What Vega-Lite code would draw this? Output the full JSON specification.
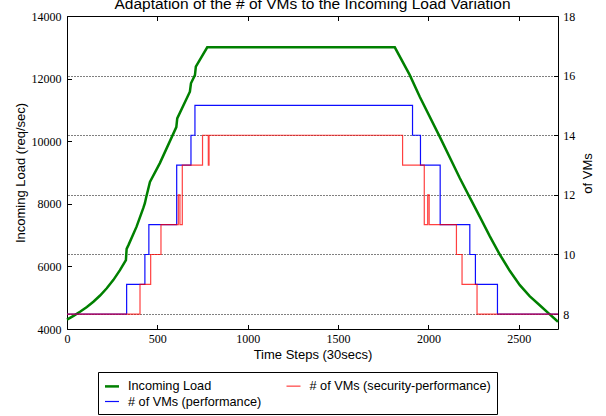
{
  "$schema": "https://vega.github.io/schema/vega-lite/v6.json",
  "width": 491,
  "height": 313,
  "autosize": {"type": "none"},
  "padding": {"left": 67, "top": 16, "right": 48, "bottom": 87},
  "background": "white",
  "title": {"text": "Adaptation of the # of VMs to the Incoming Load Variation", "font": "Liberation Sans", "fontSize": 15.5, "fontWeight": "normal", "color": "black", "anchor": "middle", "frame": "group", "baseline": "alphabetic", "offset": 4, "dy": 18.5},
  "datasets": {
    "load": [
      {"t": 0, "load": 4300, "series": "Incoming Load"},
      {"t": 36, "load": 4420, "series": "Incoming Load"},
      {"t": 72, "load": 4550, "series": "Incoming Load"},
      {"t": 110, "load": 4700, "series": "Incoming Load"},
      {"t": 146, "load": 4870, "series": "Incoming Load"},
      {"t": 183, "load": 5070, "series": "Incoming Load"},
      {"t": 220, "load": 5300, "series": "Incoming Load"},
      {"t": 257, "load": 5570, "series": "Incoming Load"},
      {"t": 293, "load": 5880, "series": "Incoming Load"},
      {"t": 326, "load": 6200, "series": "Incoming Load"},
      {"t": 330, "load": 6560, "series": "Incoming Load"},
      {"t": 340, "load": 6680, "series": "Incoming Load"},
      {"t": 385, "load": 7270, "series": "Incoming Load"},
      {"t": 422, "load": 7860, "series": "Incoming Load"},
      {"t": 431, "load": 8020, "series": "Incoming Load"},
      {"t": 437, "load": 8180, "series": "Incoming Load"},
      {"t": 459, "load": 8700, "series": "Incoming Load"},
      {"t": 514, "load": 9300, "series": "Incoming Load"},
      {"t": 605, "load": 10450, "series": "Incoming Load"},
      {"t": 610, "load": 10730, "series": "Incoming Load"},
      {"t": 680, "load": 11580, "series": "Incoming Load"},
      {"t": 686, "load": 11850, "series": "Incoming Load"},
      {"t": 708, "load": 12110, "series": "Incoming Load"},
      {"t": 713, "load": 12380, "series": "Incoming Load"},
      {"t": 776, "load": 13000, "series": "Incoming Load"},
      {"t": 1814, "load": 13000, "series": "Incoming Load"},
      {"t": 1897, "load": 12110, "series": "Incoming Load"},
      {"t": 1952, "load": 11420, "series": "Incoming Load"},
      {"t": 2063, "load": 10140, "series": "Incoming Load"},
      {"t": 2174, "load": 8815, "series": "Incoming Load"},
      {"t": 2230, "load": 8190, "series": "Incoming Load"},
      {"t": 2284, "load": 7590, "series": "Incoming Load"},
      {"t": 2340, "load": 6960, "series": "Incoming Load"},
      {"t": 2395, "load": 6380, "series": "Incoming Load"},
      {"t": 2450, "load": 5860, "series": "Incoming Load"},
      {"t": 2506, "load": 5400, "series": "Incoming Load"},
      {"t": 2560, "load": 5050, "series": "Incoming Load"},
      {"t": 2616, "load": 4760, "series": "Incoming Load"},
      {"t": 2667, "load": 4490, "series": "Incoming Load"},
      {"t": 2717, "load": 4230, "series": "Incoming Load"}
    ],
    "vms": [
      {"t": 0, "vms": 8, "series": "# of VMs (performance)"},
      {"t": 330, "vms": 9, "series": "# of VMs (performance)"},
      {"t": 431, "vms": 10, "series": "# of VMs (performance)"},
      {"t": 453, "vms": 11, "series": "# of VMs (performance)"},
      {"t": 607, "vms": 13, "series": "# of VMs (performance)"},
      {"t": 686, "vms": 14, "series": "# of VMs (performance)"},
      {"t": 708, "vms": 15, "series": "# of VMs (performance)"},
      {"t": 1912, "vms": 14, "series": "# of VMs (performance)"},
      {"t": 1956, "vms": 13, "series": "# of VMs (performance)"},
      {"t": 2065, "vms": 11, "series": "# of VMs (performance)"},
      {"t": 2229, "vms": 10, "series": "# of VMs (performance)"},
      {"t": 2260, "vms": 9, "series": "# of VMs (performance)"},
      {"t": 2382, "vms": 8, "series": "# of VMs (performance)"},
      {"t": 2717, "vms": 8, "series": "# of VMs (performance)"},
      {"t": 0, "vms": 8, "series": "# of VMs (security-performance)"},
      {"t": 404, "vms": 9, "series": "# of VMs (security-performance)"},
      {"t": 463, "vms": 10, "series": "# of VMs (security-performance)"},
      {"t": 520, "vms": 11, "series": "# of VMs (security-performance)"},
      {"t": 616, "vms": 12, "series": "# of VMs (security-performance)"},
      {"t": 625, "vms": 11, "series": "# of VMs (security-performance)"},
      {"t": 638, "vms": 13, "series": "# of VMs (security-performance)"},
      {"t": 750, "vms": 14, "series": "# of VMs (security-performance)"},
      {"t": 782, "vms": 13, "series": "# of VMs (security-performance)"},
      {"t": 786, "vms": 14, "series": "# of VMs (security-performance)"},
      {"t": 1857, "vms": 13, "series": "# of VMs (security-performance)"},
      {"t": 1977, "vms": 11, "series": "# of VMs (security-performance)"},
      {"t": 1996, "vms": 12, "series": "# of VMs (security-performance)"},
      {"t": 2004, "vms": 11, "series": "# of VMs (security-performance)"},
      {"t": 2155, "vms": 10, "series": "# of VMs (security-performance)"},
      {"t": 2186, "vms": 9, "series": "# of VMs (security-performance)"},
      {"t": 2269, "vms": 8, "series": "# of VMs (security-performance)"},
      {"t": 2717, "vms": 8, "series": "# of VMs (security-performance)"}
    ]
  },
  "layer": [
    {
      "data": {"name": "load"},
      "mark": {"type": "line"},
      "encoding": {
        "x": {"field": "t", "type": "quantitative", "scale": {"domain": [0, 2717], "nice": false, "zero": false},
              "axis": {"orient": "bottom", "values": [0, 500, 1000, 1500, 2000, 2500], "format": "d", "labelPadding": 9, "title": "Time Steps (30secs)", "titleBaseline": "alphabetic", "titleX": 245.5, "titleY": 29, "titleAnchor": "middle"}},
        "y": {"field": "load", "type": "quantitative", "scale": {"domain": [4000, 14000], "nice": false, "zero": false},
              "axis": {"orient": "left", "values": [4000, 6000, 8000, 10000, 12000, 14000], "format": "d", "labelPadding": 10.5, "title": "Incoming Load (req/sec)", "titleAngle": 270, "titleBaseline": "alphabetic", "titleAlign": "center", "titleX": -43, "titleY": 156.5}},
        "color": {"field": "series", "type": "nominal", "scale": {"domain": ["Incoming Load", "# of VMs (performance)", "# of VMs (security-performance)"], "range": ["#008000", "#0000ff", "#ff0000"]}, "legend": {"title": null}},
        "strokeWidth": {"field": "series", "type": "nominal", "scale": {"type": "ordinal", "domain": ["Incoming Load", "# of VMs (performance)", "# of VMs (security-performance)"], "range": [2.5, 1.2, 1.2]}, "legend": {"title": null}},
        "opacity": {"field": "series", "type": "nominal", "scale": {"type": "ordinal", "domain": ["Incoming Load", "# of VMs (performance)", "# of VMs (security-performance)"], "range": [1, 0.95, 0.75]}, "legend": {"title": null}}
      }
    },
    {
      "data": {"name": "vms"},
      "mark": {"type": "line", "interpolate": "step-after"},
      "encoding": {
        "x": {"field": "t", "type": "quantitative",
              "axis": {"orient": "top", "values": [0, 500, 1000, 1500, 2000, 2500], "labels": false, "title": null}},
        "y": {"field": "vms", "type": "quantitative", "scale": {"domain": [7.5, 18], "nice": false, "zero": false},
              "axis": {"orient": "right", "values": [8, 10, 12, 14, 16, 18], "format": "d", "labelPadding": 9.2, "grid": true, "gridColor": "black", "gridDash": [1, 2], "gridOpacity": 1, "gridWidth": 1, "title": "of VMs", "titleAngle": 270, "titleBaseline": "alphabetic", "titleAlign": "center", "titleX": 33.7, "titleY": 157}},
        "color": {"field": "series", "type": "nominal", "scale": {"domain": ["Incoming Load", "# of VMs (performance)", "# of VMs (security-performance)"], "range": ["#008000", "#0000ff", "#ff0000"]}, "legend": {"title": null}},
        "strokeWidth": {"field": "series", "type": "nominal", "scale": {"type": "ordinal", "domain": ["Incoming Load", "# of VMs (performance)", "# of VMs (security-performance)"], "range": [2.5, 1.2, 1.2]}, "legend": {"title": null}},
        "opacity": {"field": "series", "type": "nominal", "scale": {"type": "ordinal", "domain": ["Incoming Load", "# of VMs (performance)", "# of VMs (security-performance)"], "range": [1, 0.95, 0.75]}, "legend": {"title": null}}
      }
    }
  ],
  "resolve": {"scale": {"y": "independent"}, "axis": {"x": "independent", "y": "independent"}},
  "config": {
    "view": {"stroke": "black", "strokeWidth": 1},
    "axis": {"grid": false, "domain": false, "ticks": true, "tickColor": "black", "tickSize": -4.5, "tickWidth": 1, "labelFont": "Liberation Serif", "labelFontSize": 12, "labelColor": "black", "titleFont": "Liberation Sans", "titleFontSize": 13, "titleFontWeight": "normal", "titleColor": "black", "labelFlush": false, "labelOverlap": false},
    "legend": {"orient": "none", "legendX": 31, "legendY": 356, "columns": 2, "labelFont": "Liberation Sans", "labelFontSize": 12.7, "labelColor": "black", "symbolType": "stroke", "symbolSize": 196, "labelOffset": 7.5, "columnPadding": 22.5, "rowPadding": 0, "padding": 5.5, "strokeColor": "black", "fillColor": "white", "cornerRadius": 0, "labelLimit": 300}
  }
}
